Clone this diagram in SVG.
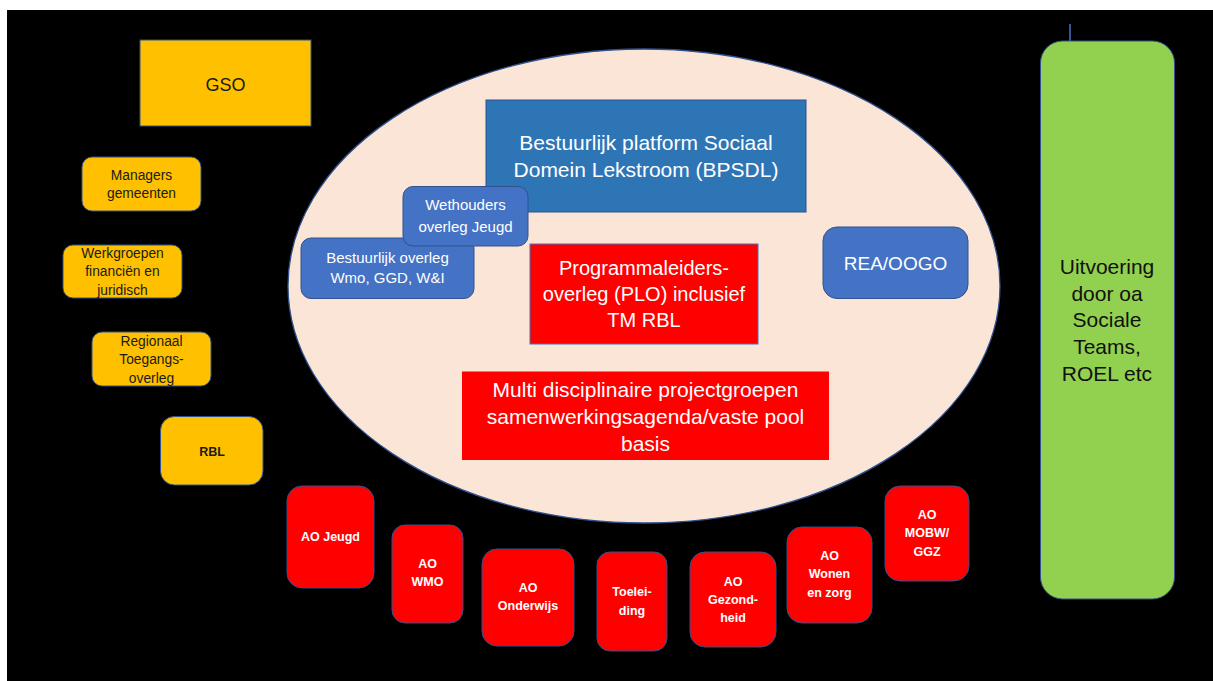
<svg xmlns="http://www.w3.org/2000/svg" width="1213" height="681" viewBox="0 0 1213 681">
<style>
text{font-family:"Liberation Sans",Arial,sans-serif;text-anchor:middle}
.y{fill:#FFC000;stroke:#2F528F;stroke-width:1}
.yt{fill:#1a1a1a;font-size:13.8px}
.b{fill:#4472C4;stroke:#2F528F;stroke-width:1}
.w{fill:#ffffff}
.big{font-size:20px}
.mid{font-size:15px}
.r{fill:#FF0000;stroke:#2F528F;stroke-width:1}
.rt{fill:#ffffff;font-size:12.5px;font-weight:bold}
</style>
<rect x="0" y="0" width="1213" height="681" fill="#ffffff"/>
<rect x="7" y="10" width="1206" height="671" fill="#000000"/>
<g id="connectors">
<line x1="1070" y1="24" x2="1070" y2="41" stroke="#4472C4" stroke-width="1.5"/>
</g>
<g id="gso"><rect class="y" x="140" y="40" width="171" height="86"/><text class="yt" x="225.5" y="90.5" style="font-size:18px">GSO</text></g>
<g id="managers"><rect class="y" x="82" y="157" width="119" height="54" rx="10"/><text class="yt" x="141.5" y="179.5">Managers</text><text class="yt" x="141.5" y="197.5">gemeenten</text></g>
<g id="werkgroepen"><rect class="y" x="63" y="245" width="119" height="53" rx="10"/><text class="yt" x="122.5" y="257.5">Werkgroepen</text><text class="yt" x="122.5" y="276">financiën en</text><text class="yt" x="122.5" y="294.5">juridisch</text></g>
<g id="regionaal"><rect class="y" x="92" y="332" width="119" height="54" rx="10"/><text class="yt" x="151.5" y="345.5">Regionaal</text><text class="yt" x="151.5" y="364">Toegangs-</text><text class="yt" x="151.5" y="382.5">overleg</text></g>
<g id="rbl"><rect class="y" x="160.5" y="416.5" width="102.5" height="68.5" rx="14"/><text class="yt" x="212" y="455.5" style="font-size:12.5px;font-weight:bold">RBL</text></g>
<g id="ellips"><ellipse cx="644" cy="286" rx="356" ry="237" fill="#FBE5D6" stroke="#2F528F" stroke-width="1.3"/></g>
<g id="bpsdl"><rect x="486" y="100" width="320" height="112" fill="#2E75B6" stroke="#2F528F" stroke-width="1"/><text class="w" x="646" y="150" style="font-size:21px">Bestuurlijk platform Sociaal</text><text class="w" x="646" y="177" style="font-size:21px">Domein Lekstroom (BPSDL)</text></g>
<g id="bestuurlijk-overleg"><rect class="b" x="301" y="238" width="173" height="60.5" rx="10"/><text class="w mid" x="387.5" y="263">Bestuurlijk overleg</text><text class="w mid" x="387.5" y="283">Wmo, GGD, W&amp;I</text></g>
<g id="wethouders"><rect class="b" x="403" y="186.5" width="125" height="59.5" rx="10"/><text class="w mid" x="465.5" y="210">Wethouders</text><text class="w mid" x="465.5" y="232">overleg Jeugd</text></g>
<g id="plo"><rect x="530" y="244" width="228" height="100" fill="#FF0000" stroke="#4472C4" stroke-width="1"/><text class="w big" x="644" y="275">Programmaleiders-</text><text class="w big" x="644" y="301">overleg (PLO) inclusief</text><text class="w big" x="644" y="327">TM RBL</text></g>
<g id="multi"><rect x="462" y="371.5" width="367" height="88.5" fill="#FF0000"/><text class="w" x="645.5" y="397" style="font-size:21px">Multi disciplinaire projectgroepen</text><text class="w" x="645.5" y="424" style="font-size:21px">samenwerkingsagenda/vaste pool</text><text class="w" x="645.5" y="451" style="font-size:21px">basis</text></g>
<g id="rea"><rect class="b" x="823" y="227" width="145" height="71.5" rx="14"/><text class="w" x="895.5" y="270" style="font-size:19px">REA/OOGO</text></g>
<g id="uitvoering"><rect x="1040.5" y="41" width="134" height="558" rx="22" fill="#92D050" stroke="#2F528F" stroke-width="1"/><text x="1107" y="274" style="font-size:21px;fill:#111">Uitvoering</text><text x="1107" y="300.5" style="font-size:21px;fill:#111">door oa</text><text x="1107" y="327" style="font-size:21px;fill:#111">Sociale</text><text x="1107" y="354" style="font-size:21px;fill:#111">Teams,</text><text x="1107" y="380.5" style="font-size:21px;fill:#111">ROEL etc</text></g>
<g id="ao-jeugd"><rect class="r" x="287" y="486" width="87" height="102" rx="15"/><text class="rt" x="330.5" y="541">AO Jeugd</text></g>
<g id="ao-wmo"><rect class="r" x="392" y="525" width="71" height="98" rx="13"/><text class="rt" x="427.5" y="568">AO</text><text class="rt" x="427.5" y="586">WMO</text></g>
<g id="ao-onderwijs"><rect class="r" x="482" y="549" width="92" height="97" rx="15"/><text class="rt" x="528" y="592">AO</text><text class="rt" x="528" y="610">Onderwijs</text></g>
<g id="toeleiding"><rect class="r" x="597" y="552" width="70" height="99" rx="13"/><text class="rt" x="632" y="596">Toelei-</text><text class="rt" x="632" y="615">ding</text></g>
<g id="ao-gezondheid"><rect class="r" x="690" y="552" width="86" height="95" rx="15"/><text class="rt" x="733" y="586">AO</text><text class="rt" x="733" y="604">Gezond-</text><text class="rt" x="733" y="622">heid</text></g>
<g id="ao-wonen"><rect class="r" x="787" y="527" width="85" height="96" rx="15"/><text class="rt" x="829.5" y="560">AO</text><text class="rt" x="829.5" y="578">Wonen</text><text class="rt" x="829.5" y="597">en zorg</text></g>
<g id="ao-mobw"><rect class="r" x="885" y="486" width="84" height="95" rx="15"/><text class="rt" x="927" y="519">AO</text><text class="rt" x="927" y="537">MOBW/</text><text class="rt" x="927" y="556">GGZ</text></g>
</svg>
